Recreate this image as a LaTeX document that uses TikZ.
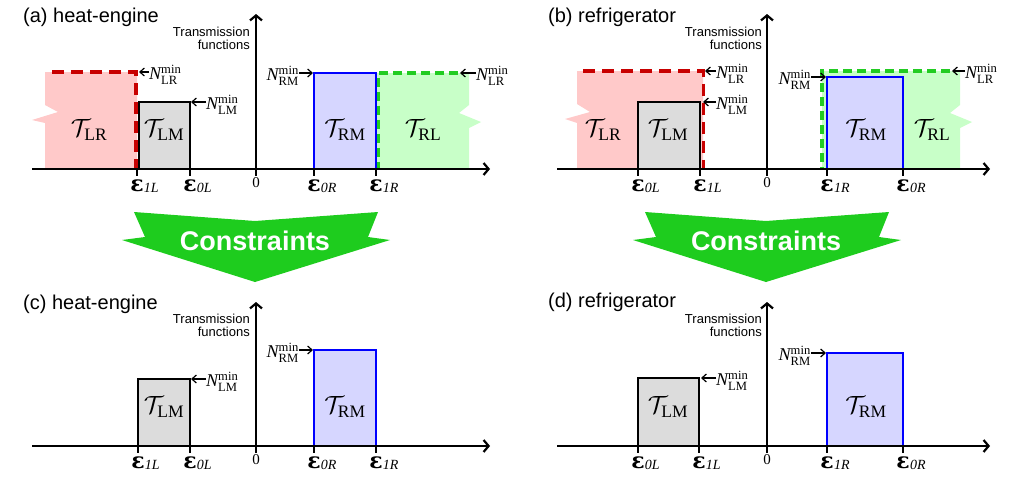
\documentclass[tikz,border=0pt]{standalone}
\usepackage{amsmath}
\usepackage{fontspec}
\setmainfont{Liberation Serif}
\newfontfamily\arialf{Liberation Sans}
\newfontfamily\dvserif{DejaVu Serif}
\usetikzlibrary{arrows.meta}
\definecolor{pinkf}{RGB}{255,201,201}
\definecolor{redd}{RGB}{200,0,0}
\definecolor{grayf}{RGB}{220,220,220}
\definecolor{bluef}{RGB}{214,214,255}
\definecolor{blued}{RGB}{0,0,255}
\definecolor{greenf}{RGB}{200,255,200}
\definecolor{greend}{RGB}{34,204,34}
\definecolor{banner}{RGB}{30,204,30}
\tikzset{
  axisline/.style={line width=2.2pt,-{Straight Barb[length=5pt,width=12pt]}},
  tickline/.style={line width=2.2pt},
  grayboxst/.style={fill=grayf,draw=black,line width=2.3pt},
  blueboxst/.style={fill=bluef,draw=blued,line width=2.3pt},
  pinkst/.style={fill=pinkf,draw=none},
  greenst/.style={fill=greenf,draw=none},
  reddashst/.style={draw=redd,line width=3.6pt,dash pattern=on 12pt off 7pt},
  greendashst/.style={draw=greend,line width=3.6pt,dash pattern=on 9pt off 5pt},
  larrow/.style={line width=1.2pt,-{Straight Barb[length=4.5pt,width=8pt]}},
  elabel/.style={anchor=base,inner sep=0pt,font=\dvserif\bfseries\fontsize{22}{23}\selectfont},
  zlabel/.style={anchor=north,inner sep=0pt,font=\fontsize{15}{16}\selectfont},
  tlabel/.style={inner sep=0pt,font=\fontsize{25}{26}\selectfont},
  nlabel/.style={inner sep=0pt,font=\fontsize{18}{19}\selectfont},
  titlest/.style={anchor=west,inner sep=0pt,font=\arialf\fontsize{20}{24}\selectfont},
  tfst/.style={anchor=north east,inner sep=0pt,align=right,font=\arialf\fontsize{13}{12.5}\selectfont},
  bannerst/.style={fill=banner,draw=none},
  bannertext/.style={inner sep=0pt,text=white,font=\arialf\bfseries\fontsize{27}{30}\selectfont}
}
\newcommand{\eps}[1]{ε\rlap{\kern0.3pt\raisebox{-1.5pt}{\rmfamily\mdseries\itshape\fontsize{14}{14}\selectfont #1}}}
\newcommand{\Nm}[1]{$\mathit{N}^{\mathrm{min}}_{\mathrm{#1}}$}
\newcommand{\Tc}[1]{$\mathcal{T}_{\mathrm{#1}}$}
\begin{document}
\begin{tikzpicture}[x=1pt,y=-1pt]
\useasboundingbox (0,0) rectangle (1024,479);
% ================= (a) =================
\node[titlest] (ta) at (23,17) {(a) heat-engine};
\fill[pinkst] (45,72) -- (137,72) -- (137,169) -- (45,169) -- (45,123) -- (32,120) -- (58,112) -- (45,105) -- cycle;
\fill[greenst] (377,73) -- (469,73) -- (469,105) -- (459,113) -- (481,122) -- (469,128) -- (469,169) -- (377,169) -- cycle;
\draw[grayboxst] (139,102) rectangle (190,169);
\draw[blueboxst] (314,73) rectangle (376,169);
\draw[reddashst] (52,72) -- (136,72) -- (136,169);
\draw[greendashst] (458,73) -- (378.5,73) -- (378.5,169);
\coordinate (aX0) at (32,169); \coordinate (aX1) at (490,169);
\coordinate (aY0) at (256,176); \coordinate (aY1) at (256,14);
\draw[axisline] (aX0) -- (aX1);
\draw[axisline] (aY0) -- (aY1);
\foreach \x in {137,190,314,376} \draw[tickline] (\x,169) -- (\x,176);
\node[elabel] (ae1L) at (137,191) {\eps{1L}};
\node[elabel] (ae0L) at (190,191) {\eps{0L}};
\node[zlabel] (az) at (256,177) {0};
\node[elabel] (ae0R) at (314,191) {\eps{0R}};
\node[elabel] (ae1R) at (376,191) {\eps{1R}};
\node[tlabel] (aTLR) at (89,130) {\Tc{LR}};
\node[tlabel] (aTLM) at (164,130) {\Tc{LM}};
\node[tlabel] (aTRM) at (345,130) {\Tc{RM}};
\node[tlabel] (aTRL) at (423,130) {\Tc{RL}};
\node[tfst] (atf) at (250,27) {Transmission\\functions};
\node[nlabel,anchor=west] (aNLR) at (149,75) {\Nm{LR}};
\coordinate (aNLRt) at (139,72);
\draw[larrow] (aNLR.west |- aNLRt) -- (aNLRt);
\node[nlabel,anchor=west] (aNLM) at (206,105) {\Nm{LM}};
\coordinate (aNLMt) at (191,102);
\draw[larrow] (aNLM.west |- aNLMt) -- (aNLMt);
\node[nlabel,anchor=east] (aNRM) at (299,76) {\Nm{RM}};
\coordinate (aNRMt) at (313,73);
\draw[larrow] (aNRM.east |- aNRMt) -- (aNRMt);
\node[nlabel,anchor=west] (aNLR2) at (476,76) {\Nm{LR}};
\coordinate (aNLR2t) at (460,73);
\draw[larrow] (aNLR2.west |- aNLR2t) -- (aNLR2t);
% ================= (b) =================
\node[titlest] (tb) at (548,17) {(b) refrigerator};
\fill[pinkst] (577,71) -- (703,71) -- (703,169) -- (577,169) -- (577,123) -- (565,119) -- (590,112) -- (577,104) -- cycle;
\fill[greenst] (822,71) -- (960,71) -- (960,105) -- (950,113) -- (972,122) -- (960,128) -- (960,169) -- (822,169) -- cycle;
\draw[grayboxst] (638,102) rectangle (700,169);
\draw[reddashst] (583,71) -- (703.5,71) -- (703.5,169);
\draw[greendashst] (950,71) -- (822,71) -- (822,169);
\draw[blueboxst] (827,77) rectangle (903,169);
\coordinate (bX0) at (557,169); \coordinate (bX1) at (990,169);
\coordinate (bY0) at (767,176); \coordinate (bY1) at (767,14);
\draw[axisline] (bX0) -- (bX1);
\draw[axisline] (bY0) -- (bY1);
\foreach \x in {638,700,827,903} \draw[tickline] (\x,169) -- (\x,176);
\node[elabel] (be0L) at (638,191) {\eps{0L}};
\node[elabel] (be1L) at (700,191) {\eps{1L}};
\node[zlabel] (bz) at (767,177) {0};
\node[elabel] (be1R) at (827,191) {\eps{1R}};
\node[elabel] (be0R) at (903,191) {\eps{0R}};
\node[tlabel] (bTLR) at (603,130) {\Tc{LR}};
\node[tlabel] (bTLM) at (668,130) {\Tc{LM}};
\node[tlabel] (bTRM) at (866,130) {\Tc{RM}};
\node[tlabel] (bTRL) at (932,130) {\Tc{RL}};
\node[tfst] (btf) at (762,27) {Transmission\\functions};
\node[nlabel,anchor=west] (bNLR) at (716,74) {\Nm{LR}};
\coordinate (bNLRt) at (705,71);
\draw[larrow] (bNLR.west |- bNLRt) -- (bNLRt);
\node[nlabel,anchor=west] (bNLM) at (716,105) {\Nm{LM}};
\coordinate (bNLMt) at (703,102);
\draw[larrow] (bNLM.west |- bNLMt) -- (bNLMt);
\node[nlabel,anchor=east] (bNRM) at (811,80) {\Nm{RM}};
\coordinate (bNRMt) at (826,77);
\draw[larrow] (bNRM.east |- bNRMt) -- (bNRMt);
\node[nlabel,anchor=west] (bNLR2) at (965,74) {\Nm{LR}};
\coordinate (bNLR2t) at (952,71);
\draw[larrow] (bNLR2.west |- bNLR2t) -- (bNLR2t);
% ================= banners =================
\fill[bannerst] (134,212) -- (255,221) -- (378,212) -- (368,237) -- (390,240) -- (255,282) -- (122,240) -- (145,237) -- cycle;
\node[bannertext] (cona) at (255,241) {Constraints};
\fill[bannerst] (645,212) -- (766,221) -- (889,212) -- (879,237) -- (901,240) -- (766,282) -- (633,240) -- (656,237) -- cycle;
\node[bannertext] (conb) at (766,241) {Constraints};
% ================= (c) =================
\node[titlest] (tc) at (23,304) {(c) heat-engine};
\draw[grayboxst] (138,379) rectangle (190,446);
\draw[blueboxst] (314,350) rectangle (376,446);
\coordinate (cX0) at (32,446); \coordinate (cX1) at (490,446);
\coordinate (cY0) at (256,453); \coordinate (cY1) at (256,302);
\draw[axisline] (cX0) -- (cX1);
\draw[axisline] (cY0) -- (cY1);
\foreach \x in {138,190,314,376} \draw[tickline] (\x,446) -- (\x,453);
\node[elabel] (ce1L) at (138,468) {\eps{1L}};
\node[elabel] (ce0L) at (190,468) {\eps{0L}};
\node[zlabel] (cz) at (256,454) {0};
\node[elabel] (ce0R) at (314,468) {\eps{0R}};
\node[elabel] (ce1R) at (376,468) {\eps{1R}};
\node[tlabel] (cTLM) at (164,407) {\Tc{LM}};
\node[tlabel] (cTRM) at (345,407) {\Tc{RM}};
\node[tfst] (ctf) at (250,314) {Transmission\\functions};
\node[nlabel,anchor=west] (cNLM) at (206,382) {\Nm{LM}};
\coordinate (cNLMt) at (191,379);
\draw[larrow] (cNLM.west |- cNLMt) -- (cNLMt);
\node[nlabel,anchor=east] (cNRM) at (299,353) {\Nm{RM}};
\coordinate (cNRMt) at (313,350);
\draw[larrow] (cNRM.east |- cNRMt) -- (cNRMt);
% ================= (d) =================
\node[titlest] (td) at (548,302) {(d) refrigerator};
\draw[grayboxst] (638,378) rectangle (699,446);
\draw[blueboxst] (827,353) rectangle (903,446);
\coordinate (dX0) at (557,446); \coordinate (dX1) at (990,446);
\coordinate (dY0) at (767,453); \coordinate (dY1) at (767,302);
\draw[axisline] (dX0) -- (dX1);
\draw[axisline] (dY0) -- (dY1);
\foreach \x in {638,699,827,903} \draw[tickline] (\x,446) -- (\x,453);
\node[elabel] (de0L) at (638,468) {\eps{0L}};
\node[elabel] (de1L) at (699,468) {\eps{1L}};
\node[zlabel] (dz) at (767,454) {0};
\node[elabel] (de1R) at (827,468) {\eps{1R}};
\node[elabel] (de0R) at (903,468) {\eps{0R}};
\node[tlabel] (dTLM) at (668,407) {\Tc{LM}};
\node[tlabel] (dTRM) at (866,407) {\Tc{RM}};
\node[tfst] (dtf) at (762,314) {Transmission\\functions};
\node[nlabel,anchor=west] (dNLM) at (716,381) {\Nm{LM}};
\coordinate (dNLMt) at (701,378);
\draw[larrow] (dNLM.west |- dNLMt) -- (dNLMt);
\node[nlabel,anchor=east] (dNRM) at (811,356) {\Nm{RM}};
\coordinate (dNRMt) at (826,353);
\draw[larrow] (dNRM.east |- dNRMt) -- (dNRMt);
\end{tikzpicture}
\end{document}
